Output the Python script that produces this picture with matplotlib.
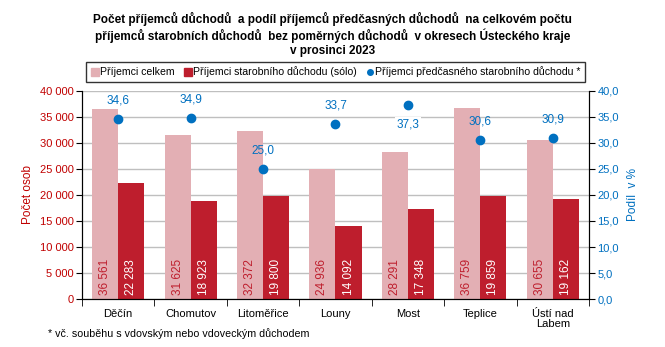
import matplotlib
matplotlib.use("Agg")
import matplotlib.pyplot as plt
from matplotlib.lines import Line2D
import numpy as np

plt.rcParams['font.family'] = ['Liberation Sans', 'DejaVu Sans']

categories = ["Děčín", "Chomutov", "Litoměřice", "Louny", "Most", "Teplice", "Ústí nad\nLabem"]
total = [36561, 31625, 32372, 24936, 28291, 36759, 30655]
solo = [22283, 18923, 19800, 14092, 17348, 19859, 19162]
share = [34.6, 34.9, 25.0, 33.7, 37.3, 30.6, 30.9]

PINK = "#E3AFB4"
RED = "#BE1E2D"
BLUE = "#0070C0"
LRED = "#C00000"

def fmt_int(v):
    return f"{v:,}".replace(",", " ")

fig = plt.figure(figsize=(6.65, 3.47), dpi=100)
ax = fig.add_axes([0.1233, 0.1383, 0.7624, 0.5995])
ax2 = ax.twinx()

x = np.arange(len(categories))
w = 0.36
ax.bar(x - w/2, total, w, color=PINK, zorder=2)
ax.bar(x + w/2, solo, w, color=RED, zorder=2)

for xi, v in zip(x, total):
    ax.text(xi - w/2, 700, fmt_int(v), rotation=90, ha='center', va='bottom',
            color=RED, fontsize=8.5, zorder=3)
for xi, v in zip(x, solo):
    ax.text(xi + w/2, 700, fmt_int(v), rotation=90, ha='center', va='bottom',
            color='white', fontsize=8.5, zorder=3)

ax.set_xlim(-0.5, len(categories) - 0.5)
ax.set_ylim(0, 40000)
ax.set_yticks(np.arange(0, 40001, 5000))
ax.set_yticklabels([fmt_int(v) for v in range(0, 40001, 5000)], color=LRED, fontsize=8)
ax.yaxis.grid(True, color="#BFBFBF", linewidth=1, zorder=0)
ax.set_axisbelow(True)
ax.set_ylabel("Počet osob", color=LRED, fontsize=8.5, labelpad=4)
ax.set_xticks(x)
ax.set_xticklabels(categories, fontsize=8, linespacing=1.0)
ax.tick_params(axis='x', length=0, pad=7)
ax.set_xticks(np.arange(-0.5, len(categories)), minor=True)
ax.tick_params(axis='x', which='minor', length=5, direction='out', color='black')
ax.tick_params(axis='y', length=4, direction='out', pad=2)
ax.spines['top'].set_visible(False)

ax2.scatter(x, share, s=36, color=BLUE, zorder=5)
for xi, v in zip(x, share):
    lab = f"{v:.1f}".replace(".", ",")
    if v > 36:
        ax2.annotate(lab, (xi, v), xytext=(0, -10), textcoords='offset points',
                     ha='center', va='top', color=BLUE, fontsize=8.5,
                     bbox=dict(facecolor='white', edgecolor='none', pad=1))
    else:
        ax2.annotate(lab, (xi, v), xytext=(0, 9), textcoords='offset points',
                     ha='center', va='bottom', color=BLUE, fontsize=8.5)
ax2.set_ylim(0, 40)
ax2.set_yticks(np.arange(0, 40.1, 5))
ax2.set_yticklabels([f"{v:.1f}".replace(".", ",") for v in np.arange(0, 40.1, 5)], color=BLUE, fontsize=8)
ax2.tick_params(axis='y', length=4, direction='out', pad=2)
ax2.set_ylabel("Podíl  v %", color=BLUE, fontsize=8.5, labelpad=6)
ax2.spines['top'].set_visible(False)

fig.text(0.5, 0.965, "Počet příjemců důchodů  a podíl příjemců předčasných důchodů  na celkovém počtu\n"
         "příjemců starobních důchodů  bez poměrných důchodů  v okresech Ústeckého kraje\n"
         "v prosinci 2023", ha='center', va='top', fontsize=8.5, fontweight='bold', linespacing=1.2)

handles = [
    Line2D([], [], marker='s', linestyle='none', color=PINK, markersize=5.5),
    Line2D([], [], marker='s', linestyle='none', color=RED, markersize=5.5),
    Line2D([], [], marker='o', linestyle='none', color=BLUE, markersize=4),
]
labels = ["Příjemci celkem", "Příjemci starobního důchodu (sólo)", "Příjemci předčasného starobního důchodu *"]
leg = fig.legend(handles, labels, loc='center', bbox_to_anchor=(0.5045, 0.7925), ncol=3,
                 fontsize=7.6, frameon=True, fancybox=False, edgecolor='black',
                 handletextpad=0.05, columnspacing=0.9, handlelength=0.8, borderpad=0.45,
                 borderaxespad=0)
leg.get_frame().set_linewidth(1.0)

fig.text(0.072, 0.04, "* vč. souběhu s vdovským nebo vdoveckým důchodem", fontsize=7.7, ha='left', va='center')

fig.savefig("out.png", dpi=100)
